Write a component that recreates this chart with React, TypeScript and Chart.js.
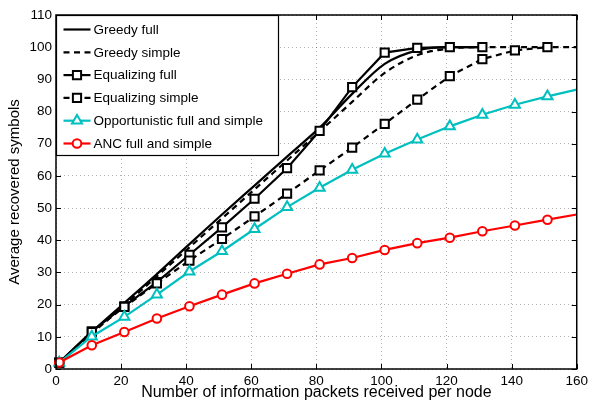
import React, { useEffect, useRef } from "react";
import { Chart, registerables } from "chart.js";

Chart.register(...registerables);

const FONT = '"Liberation Sans", Arial, Helvetica, sans-serif';

// ---- data ----
const greedyFullX = [1, 11, 21, 31, 41, 51, 61, 71, 81, 91, 101, 111, 121, 131];
const greedyFullY = [2, 11.5, 20.5, 29.5, 38.8, 48, 57, 66, 75, 85.5, 94.8, 99, 100, 100];

const greedySimpleX = [1, 11, 21, 31, 41, 51, 61, 71, 81, 91, 101, 111, 121, 131, 141, 151, 160];
const greedySimpleY = [2, 11, 19.8, 28.8, 37.8, 46.8, 55.8, 64.8, 73.8, 83, 92, 97.5, 99.6, 100, 100, 100, 100];

const equalizingFullX = [1, 11, 21, 31, 41, 51, 61, 71, 81, 91, 101, 111, 121, 131];
const equalizingFullY = [2, 11.7, 19.5, 27.0, 35.5, 44.0, 52.9, 62.4, 74.0, 87.6, 98.3, 99.8, 100, 100];

const equalizingSimpleX = [1, 11, 21, 31, 41, 51, 61, 71, 81, 91, 101, 111, 121, 131, 141, 151];
const equalizingSimpleY = [2, 11.5, 19.3, 26.6, 33.7, 40.4, 47.4, 54.5, 61.7, 68.8, 76.2, 83.7, 91.0, 96.3, 99.0, 100];

const opportunisticX = [1, 11, 21, 31, 41, 51, 61, 71, 81, 91, 101, 111, 121, 131, 141, 151, 160];
const opportunisticY = [2, 10.1, 16.2, 23.1, 30.3, 36.6, 43.5, 50.3, 56.3, 61.9, 66.9, 71.3, 75.4, 79.0, 82.1, 84.7, 86.8];
const opportunisticMarked = [1, 1, 1, 1, 1, 1, 1, 1, 1, 1, 1, 1, 1, 1, 1, 1, 0];

const ancX = [1, 11, 21, 31, 41, 51, 61, 71, 81, 91, 101, 111, 121, 131, 141, 151, 160];
const ancY = [2, 7.4, 11.5, 15.7, 19.5, 23.1, 26.6, 29.6, 32.5, 34.5, 37.0, 39.1, 40.8, 42.8, 44.6, 46.4, 48.0];
const ancMarked = [1, 1, 1, 1, 1, 1, 1, 1, 1, 1, 1, 1, 1, 1, 1, 1, 0];

const seriesLabels = [
  "Greedy full",
  "Greedy simple",
  "Equalizing full",
  "Equalizing simple",
  "Opportunistic full and simple",
  "ANC full and simple",
];

const xTitle = "Number of information packets received per node";
const yTitle = "Average recovered symbols";
const xMin = 0, xMax = 160, xStep = 20;
const yMin = 0, yMax = 110, yStep = 10;

const CYAN = "#00BFBF";
const RED = "#FF0000";

const pts = (xs: number[], ys: number[]) => xs.map((x, i) => ({ x, y: ys[i] }));

function drawMarker(ctx: CanvasRenderingContext2D, style: string, x: number, y: number, r: number) {
  ctx.beginPath();
  if (style === "rect") {
    const s = r / Math.SQRT2;
    ctx.rect(x - s, y - s, 2 * s, 2 * s);
  } else if (style === "triangle") {
    let rad = 0;
    const step = (2 * Math.PI) / 3;
    ctx.moveTo(x + Math.sin(rad) * r, y - Math.cos(rad) * r);
    rad += step;
    ctx.lineTo(x + Math.sin(rad) * r, y - Math.cos(rad) * r);
    rad += step;
    ctx.lineTo(x + Math.sin(rad) * r, y - Math.cos(rad) * r);
    ctx.closePath();
  } else {
    ctx.arc(x, y, r, 0, Math.PI * 2);
  }
  ctx.fill();
  ctx.stroke();
}

const framePlugin = {
  id: "matlabFrame",
  afterDraw(chart: any) {
    const { ctx, chartArea: a, scales } = chart;
    ctx.save();
    // inward ticks on all four sides
    ctx.strokeStyle = "#000";
    ctx.lineWidth = 1;
    ctx.setLineDash([]);
    const tl = 5;
    ctx.beginPath();
    scales.x.ticks.forEach((t: any) => {
      const px = Math.round(scales.x.getPixelForValue(t.value)) + 0.5;
      ctx.moveTo(px, a.bottom);
      ctx.lineTo(px, a.bottom - tl);
      ctx.moveTo(px, a.top);
      ctx.lineTo(px, a.top + tl);
    });
    scales.y.ticks.forEach((t: any) => {
      const py = Math.round(scales.y.getPixelForValue(t.value)) + 0.5;
      ctx.moveTo(a.left, py);
      ctx.lineTo(a.left + tl, py);
      ctx.moveTo(a.right, py);
      ctx.lineTo(a.right - tl, py);
    });
    ctx.stroke();
    // box
    ctx.lineWidth = 1.5;
    ctx.strokeRect(a.left, a.top, a.right - a.left, a.bottom - a.top);

    // legend box
    const lx = a.left + 0.5;
    const ly = a.top + 0.5;
    const lw = 222;
    const lh = 140;
    ctx.fillStyle = "#fff";
    ctx.fillRect(lx, ly, lw, lh);
    ctx.strokeStyle = "#000";
    ctx.lineWidth = 1.2;
    ctx.strokeRect(lx, ly, lw, lh);
    chart.data.datasets.forEach((ds: any, i: number) => {
      const cy = ly + 14 + i * 22.8;
      ctx.strokeStyle = ds.borderColor;
      ctx.lineWidth = ds.borderWidth;
      ctx.setLineDash(ds.borderDash || []);
      ctx.beginPath();
      ctx.moveTo(lx + 7, cy);
      ctx.lineTo(lx + 34, cy);
      ctx.stroke();
      ctx.setLineDash([]);
      if (ds.pointRadius && ds.pointRadius !== 0) {
        ctx.fillStyle = "#fff";
        ctx.strokeStyle = ds.borderColor;
        ctx.lineWidth = ds.pointBorderWidth;
        drawMarker(ctx, ds.pointStyle, lx + 20.5, cy, ds.legendRadius);
      }
      ctx.fillStyle = "#000";
      ctx.font = `13.5px ${FONT}`;
      ctx.textBaseline = "middle";
      ctx.textAlign = "left";
      ctx.fillText(ds.label, lx + 37, cy + 0.5);
    });
    ctx.restore();
  },
};

export default function App() {
  const canvasRef = useRef<HTMLCanvasElement | null>(null);

  useEffect(() => {
    document.body.style.margin = "0";
    const canvas = canvasRef.current;
    if (!canvas) return;

    const markerRadius = (marks: number[] | null, r: number) =>
      marks ? marks.map((m) => (m ? r : 0)) : r;

    const chart = new Chart(canvas, {
      type: "line",
      data: {
        datasets: [
          {
            label: seriesLabels[0],
            data: pts(greedyFullX, greedyFullY),
            borderColor: "#000",
            borderWidth: 2.2,
            pointRadius: 0,
            cubicInterpolationMode: "monotone",
            order: 6,
          },
          {
            label: seriesLabels[1],
            data: pts(greedySimpleX, greedySimpleY),
            borderColor: "#000",
            borderWidth: 2.2,
            borderDash: [6, 4.5],
            pointRadius: 0,
            cubicInterpolationMode: "monotone",
            order: 5,
          },
          {
            label: seriesLabels[2],
            data: pts(equalizingFullX, equalizingFullY),
            borderColor: "#000",
            borderWidth: 2.2,
            pointStyle: "rect",
            pointRadius: 5.8,
            legendRadius: 5.8,
            pointBorderWidth: 2,
            pointBackgroundColor: "#fff",
            pointBorderColor: "#000",
            order: 4,
          },
          {
            label: seriesLabels[3],
            data: pts(equalizingSimpleX, equalizingSimpleY),
            borderColor: "#000",
            borderWidth: 2.2,
            borderDash: [6, 4.5],
            pointStyle: "rect",
            pointRadius: 5.8,
            legendRadius: 5.8,
            pointBorderWidth: 2,
            pointBackgroundColor: "#fff",
            pointBorderColor: "#000",
            order: 3,
          },
          {
            label: seriesLabels[4],
            data: pts(opportunisticX, opportunisticY),
            borderColor: CYAN,
            borderWidth: 2.2,
            pointStyle: "triangle",
            pointRadius: markerRadius(opportunisticMarked, 5.8),
            legendRadius: 5.8,
            pointBorderWidth: 2,
            pointBackgroundColor: "#fff",
            pointBorderColor: CYAN,
            order: 2,
          },
          {
            label: seriesLabels[5],
            data: pts(ancX, ancY),
            borderColor: RED,
            borderWidth: 2.2,
            pointStyle: "circle",
            pointRadius: markerRadius(ancMarked, 4.3),
            legendRadius: 4.3,
            pointBorderWidth: 2,
            pointBackgroundColor: "#fff",
            pointBorderColor: RED,
            order: 1,
          },
        ] as any,
      },
      options: {
        responsive: false,
        animation: false,
        clip: false as any,
        layout: { padding: { top: 15, right: 15, left: 0, bottom: 0 } },
        plugins: {
          legend: { display: false },
          tooltip: { enabled: false },
        },
        elements: { line: { tension: 0 } },
        scales: {
          x: {
            type: "linear",
            min: xMin,
            max: xMax,
            ticks: {
              stepSize: xStep,
              color: "#000",
              font: { family: FONT, size: 13.5 },
              padding: 4,
              maxRotation: 0,
            },
            grid: { color: "rgba(0,0,0,0.3)", lineWidth: 1, drawTicks: false },
            border: { display: false, dash: [1, 3] },
            title: {
              display: true,
              text: xTitle,
              color: "#000",
              font: { family: FONT, size: 16 },
              padding: { top: 0, bottom: 0 },
            },
            afterFit: (s: any) => {
              s.height = 33;
            },
          },
          y: {
            type: "linear",
            min: yMin,
            max: yMax,
            ticks: {
              stepSize: yStep,
              color: "#000",
              font: { family: FONT, size: 13.5 },
              padding: 4,
            },
            grid: { color: "rgba(0,0,0,0.3)", lineWidth: 1, drawTicks: false },
            border: { display: false, dash: [1, 3] },
            title: {
              display: true,
              text: yTitle,
              color: "#000",
              font: { family: FONT, size: 15 },
              padding: { top: 6, bottom: 0 },
            },
            afterFit: (s: any) => {
              s.width = 56;
            },
          },
        },
      } as any,
      plugins: [framePlugin],
    });

    return () => chart.destroy();
  }, []);

  return (
    <div style={{ width: 592, height: 402 }}>
      <canvas ref={canvasRef} width={592} height={402} style={{ width: 592, height: 402, display: "block" }} />
    </div>
  );
}
